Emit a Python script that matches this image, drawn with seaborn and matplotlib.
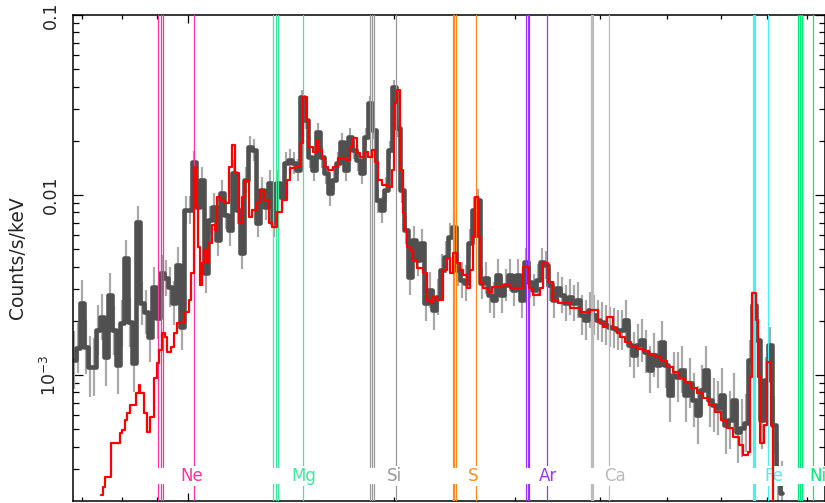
import numpy as np
import pandas as pd
import matplotlib
matplotlib.use("Agg")
import matplotlib.pyplot as plt
import seaborn as sns
from matplotlib.ticker import LogLocator, FixedLocator, FixedFormatter, NullFormatter

# ---------------- data ----------------
# observed spectrum: bin centres (keV), rate (counts/s/keV), 1-sigma error (dex)
data_kev = [0.682, 0.691, 0.700, 0.710, 0.719, 0.729, 0.739, 0.749, 0.759, 0.769,
            0.780, 0.790, 0.801, 0.812, 0.823, 0.834, 0.845, 0.857, 0.868, 0.880,
            0.892, 0.904, 0.916, 0.929, 0.941, 0.954, 0.967, 0.980, 0.993, 1.007,
            1.020, 1.034, 1.048, 1.062, 1.077, 1.091, 1.106, 1.121, 1.136, 1.152,
            1.167, 1.183, 1.199, 1.215, 1.232, 1.248, 1.265, 1.282, 1.300, 1.317,
            1.335, 1.353, 1.372, 1.390, 1.409, 1.428, 1.448, 1.467, 1.487, 1.507,
            1.528, 1.548, 1.569, 1.591, 1.612, 1.634, 1.656, 1.679, 1.701, 1.724,
            1.748, 1.771, 1.795, 1.820, 1.844, 1.869, 1.895, 1.920, 1.946, 1.973,
            2.000, 2.027, 2.054, 2.082, 2.110, 2.139, 2.168, 2.197, 2.227, 2.257,
            2.288, 2.319, 2.350, 2.382, 2.414, 2.447, 2.480, 2.512, 2.546, 2.580,
            2.615, 2.651, 2.687, 2.723, 2.760, 2.797, 2.835, 2.874, 2.912, 2.952,
            2.992, 3.032, 3.073, 3.115, 3.157, 3.200, 3.243, 3.287, 3.332, 3.377,
            3.422, 3.469, 3.516, 3.563, 3.612, 3.660, 3.710, 3.760, 3.811, 3.863,
            3.915, 3.968, 4.022, 4.076, 4.131, 4.187, 4.244, 4.302, 4.360, 4.419,
            4.479, 4.539, 4.601, 4.663, 4.726, 4.790, 4.855, 4.921, 4.987, 5.055,
            5.123, 5.193, 5.263, 5.334, 5.406, 5.480, 5.554, 5.629, 5.705, 5.782,
            5.861, 5.940, 6.020, 6.102, 6.184, 6.268, 6.353, 6.439, 6.526, 6.614,
            6.704, 6.794, 6.886, 6.979, 7.074, 7.170, 7.267, 7.365]

data_rate = [0.00121, 0.00141, 0.00251, 0.00143, 0.00111, 0.00111, 0.00178, 0.00210, 0.00126, 0.00279,
             0.00178, 0.00114, 0.00194, 0.00447, 0.00197, 0.00116, 0.00708, 0.00251, 0.00224, 0.00163,
             0.00308, 0.00208, 0.00369, 0.00346, 0.00308, 0.00251, 0.00408, 0.00185, 0.00825, 0.00825,
             0.01525, 0.00858, 0.01212, 0.00369, 0.00726, 0.00858, 0.00562, 0.01026, 0.00774, 0.00639,
             0.01325, 0.00825, 0.00476, 0.01212, 0.01848, 0.01778, 0.00699, 0.01066, 0.00858, 0.01166,
             0.00699, 0.01166, 0.00975, 0.01506, 0.01565, 0.01506, 0.01377, 0.03503, 0.02610, 0.01626,
             0.01377, 0.02239, 0.01626, 0.01325, 0.01026, 0.01212, 0.01506, 0.01970, 0.01377, 0.02100,
             0.01778, 0.01565, 0.01325, 0.02100, 0.03244, 0.02297, 0.00938, 0.00825, 0.01066, 0.01778,
             0.03981, 0.02356, 0.01066, 0.00639, 0.00350, 0.00562, 0.00435, 0.00541, 0.00251, 0.00297,
             0.00230, 0.00272, 0.00383, 0.00453, 0.00584, 0.00664, 0.00383, 0.00337, 0.00324, 0.00541,
             0.00825, 0.00938, 0.00324, 0.00346, 0.00279, 0.00261, 0.00359, 0.00279, 0.00316, 0.00359,
             0.00297, 0.00359, 0.00261, 0.00424, 0.00328, 0.00297, 0.00337, 0.00424, 0.00408, 0.00316,
             0.00261, 0.00304, 0.00279, 0.00251, 0.00272, 0.00251, 0.00261, 0.00216, 0.00202, 0.00230,
             0.00216, 0.00202, 0.00197, 0.00189, 0.00185, 0.00182, 0.00178, 0.00178, 0.00202, 0.00146,
             0.00129, 0.00146, 0.00156, 0.00135, 0.00107, 0.00129, 0.00114, 0.00152, 0.00114, 0.000774,
             0.00100, 0.000978, 0.00107, 0.000774, 0.000903, 0.000726, 0.000599, 0.000825, 0.00107, 0.000726,
             0.000681, 0.000655, 0.000774, 0.000527, 0.000562, 0.000726, 0.000482, 0.000507, 0.000541, 0.00121,
             0.00245, 0.00156, 0.000562, 0.000938, 0.00146, 0.000527, 0.000279, 0.000221]

data_err_dex = [0.16, 0.14, 0.13, 0.15, 0.17, 0.16, 0.14, 0.13, 0.16, 0.12,
                0.14, 0.16, 0.13, 0.10, 0.14, 0.16, 0.09, 0.12, 0.12, 0.14,
                0.11, 0.12, 0.10, 0.10, 0.11, 0.12, 0.10, 0.13, 0.08, 0.08,
                0.06, 0.08, 0.07, 0.11, 0.08, 0.08, 0.09, 0.07, 0.08, 0.09,
                0.07, 0.08, 0.09, 0.07, 0.06, 0.06, 0.08, 0.07, 0.07, 0.07,
                0.08, 0.07, 0.07, 0.06, 0.06, 0.06, 0.06, 0.04, 0.05, 0.06,
                0.06, 0.05, 0.06, 0.06, 0.07, 0.06, 0.06, 0.05, 0.06, 0.05,
                0.05, 0.06, 0.06, 0.05, 0.04, 0.05, 0.07, 0.07, 0.07, 0.05,
                0.04, 0.05, 0.07, 0.08, 0.10, 0.08, 0.09, 0.08, 0.10, 0.10,
                0.11, 0.10, 0.09, 0.09, 0.08, 0.08, 0.09, 0.10, 0.10, 0.08,
                0.07, 0.06, 0.09, 0.09, 0.10, 0.10, 0.09, 0.10, 0.09, 0.09,
                0.09, 0.09, 0.10, 0.08, 0.09, 0.09, 0.09, 0.08, 0.08, 0.09,
                0.10, 0.09, 0.10, 0.10, 0.10, 0.10, 0.10, 0.11, 0.11, 0.10,
                0.11, 0.11, 0.11, 0.11, 0.11, 0.11, 0.11, 0.11, 0.11, 0.12,
                0.13, 0.12, 0.12, 0.12, 0.13, 0.12, 0.13, 0.12, 0.13, 0.15,
                0.13, 0.14, 0.13, 0.15, 0.14, 0.15, 0.16, 0.14, 0.13, 0.15,
                0.15, 0.15, 0.15, 0.16, 0.16, 0.15, 0.17, 0.16, 0.16, 0.11,
                0.08, 0.10, 0.16, 0.13, 0.10, 0.16, 0.18, 0.18]

# folded model: step edges (keV) and rate (counts/s/keV)
model_kev = [0.7464, 0.7515, 0.7566, 0.7716, 0.7959, 0.8012, 0.8093, 0.8148, 0.8230, 0.8397,
             0.8482, 0.8510, 0.8626, 0.8713, 0.8801, 0.8919, 0.9010, 0.9071, 0.9164, 0.9256,
             0.9318, 0.9445, 0.9540, 0.9637, 0.9800, 0.9900, 1.0034, 1.0101, 1.0204, 1.0273,
             1.0342, 1.0412, 1.0482, 1.0553, 1.0660, 1.0731, 1.0840, 1.0950, 1.1023, 1.1135,
             1.1324, 1.1477, 1.1593, 1.1711, 1.1870, 1.1990, 1.2112, 1.2276, 1.2400, 1.2611,
             1.2738, 1.2911, 1.3130, 1.3263, 1.3488, 1.3717, 1.3950, 1.4091, 1.4330, 1.4573,
             1.4721, 1.4920, 1.5021, 1.5224, 1.5431, 1.5483, 1.5692, 1.5849, 1.6010, 1.6281,
             1.6557, 1.6781, 1.7066, 1.7239, 1.7414, 1.7649, 1.7827, 1.8130, 1.8314, 1.8562,
             1.8750, 1.8940, 1.9196, 1.9522, 1.9866, 2.0000, 2.0203, 2.0408, 2.0614, 2.0753,
             2.0893, 2.1105, 2.1319, 2.1608, 2.2048, 2.2346, 2.2573, 2.2802, 2.3110, 2.3581,
             2.3901, 2.4143, 2.4388, 2.4718, 2.4969, 2.5222, 2.5564, 2.5803, 2.6065, 2.6240,
             2.6506, 2.6685, 2.6956, 2.7413, 2.7784, 2.8829, 2.9515, 3.0836, 3.1464, 3.1890,
             3.2649, 3.2980, 3.3539, 3.4108, 3.4687, 3.6115, 3.7351, 3.8628, 3.9682, 4.0364,
             4.0910, 4.1744, 4.2310, 4.2739, 4.3464, 4.4350, 4.5254, 4.6176, 4.7117, 4.8077,
             4.9057, 5.0057, 5.1077, 5.2118, 5.3180, 5.4264, 5.5370, 5.6498, 5.7649, 5.8824,
             6.0023, 6.1246, 6.2494, 6.3768, 6.4632, 6.5728, 6.6171, 6.6617, 6.7520, 6.7975,
             6.8434, 6.9361, 7.0064, 7.0986, 7.1462, 7.2188]

model_rate = [0.000215, 0.000239, 0.000272, 0.000419, 0.000476, 0.000495, 0.000562, 0.000615, 0.000681, 0.000794,
              0.000880, 0.000794, 0.000615, 0.000482, 0.000584, 0.000966, 0.00116, 0.00138, 0.00171, 0.00163,
              0.00135, 0.00143, 0.00171, 0.00194, 0.00197, 0.00224, 0.00261, 0.00369, 0.01431, 0.00858,
              0.00514, 0.00316, 0.00419, 0.00495, 0.00419, 0.00541, 0.00681, 0.00639, 0.00975, 0.00938,
              0.00903, 0.01431, 0.01896, 0.01325, 0.00699, 0.00975, 0.01212, 0.00754, 0.00825, 0.00914,
              0.01066, 0.00938, 0.00699, 0.00664, 0.00804, 0.00938, 0.01212, 0.01413, 0.01431, 0.01945,
              0.03503, 0.02610, 0.01848, 0.01733, 0.02021, 0.01778, 0.01605, 0.01431, 0.01377, 0.01431,
              0.01605, 0.01605, 0.01565, 0.01848, 0.02074, 0.01711, 0.01626, 0.01733, 0.01626, 0.01778,
              0.01525, 0.01212, 0.01137, 0.01108, 0.01377, 0.03244, 0.03831, 0.01377, 0.00794, 0.00639,
              0.00514, 0.00495, 0.00435, 0.00393, 0.00369, 0.00261, 0.00251, 0.00272, 0.00261, 0.00383,
              0.00447, 0.00369, 0.00476, 0.00419, 0.00383, 0.00359, 0.00304, 0.00383, 0.00584, 0.00975,
              0.00584, 0.00324, 0.00304, 0.00289, 0.00308, 0.00316, 0.00304, 0.00398, 0.00304, 0.00279,
              0.00304, 0.00419, 0.00328, 0.00261, 0.00251, 0.00236, 0.00224, 0.00230, 0.00197, 0.00185,
              0.00210, 0.00182, 0.00171, 0.00163, 0.00152, 0.00144, 0.00139, 0.00136, 0.00131, 0.00126,
              0.00119, 0.00111, 0.00104, 0.000966, 0.000914, 0.000847, 0.000794, 0.000745, 0.000681, 0.000623,
              0.000562, 0.000507, 0.000453, 0.000408, 0.000359, 0.000373, 0.000978, 0.00286, 0.00202, 0.000978,
              0.000419, 0.000527, 0.00118, 0.000527, 0.000150, 0.000150]

# emission-line markers (keV): He-like triplet, Ly-alpha, label position
line_names = ["Ne", "Mg", "Si", "S", "Ar", "Ca", "Fe", "Ni"]
line_triplets = [[0.905, 0.913, 0.920], [1.332, 1.343, 1.352], [1.844, 1.856, 1.869],
                 [2.434, 2.448, 2.462], [3.115, 3.133, 3.150], [3.871, 3.888, 3.905],
                 [6.674, 6.699, 6.726], [7.780, 7.825, 7.870]]
line_lya = [1.020, 1.470, 2.012, 2.630, 3.346, 4.121, 7.033, 8.167]
label_kev = [1.0135, 1.477, 2.000, 2.607, 3.354, 4.201, 7.170, 8.314]
line_colors = ["#ff3399", "#3deb9a", "#999999", "#ff8c1a", "#9933ff", "#bbbbbb", "#4deeee", "#00ee77"]

# ---------------- plotting ----------------
sns.set_theme(style="white")
plt.rcParams["font.family"] = ["DejaVu Sans"]

W, H = 825, 503
fig = plt.figure(figsize=(W / 100, H / 100), dpi=100)
ax = fig.add_axes([72.7 / W, 2.5 / H, (W - 72.7) / W, (500.5 - 15) / H])

df_data = pd.DataFrame({"E": data_kev, "rate": data_rate, "err": data_err_dex})
df_model = pd.DataFrame({"E": model_kev, "rate": model_rate})

lo = df_data["rate"] / 10 ** df_data["err"]
hi = df_data["rate"] * 10 ** df_data["err"]
ax.vlines(df_data["E"], lo, hi, color="#a9a9a9", lw=1.6, zorder=1)

sns.lineplot(data=df_data, x="E", y="rate", drawstyle="steps-mid", color="#505050",
             lw=3.3, estimator=None, sort=False, ax=ax, zorder=2)

gap_lo, gap_hi = 0.033, 0.068
for name, trip, lya, lab, col in zip(line_names, line_triplets, line_lya, label_kev, line_colors):
    for e in trip + [lya]:
        ax.axvline(e, ymin=0, ymax=gap_lo, color=col, lw=0.9, zorder=3)
        ax.axvline(e, ymin=gap_hi, ymax=1, color=col, lw=0.9, zorder=3)
    ax.text(lab, 2.75e-4, name, color=col, ha="center", va="center", fontsize=12,
            zorder=4, bbox=dict(facecolor="white", edgecolor="none", pad=0.5))

sns.lineplot(data=df_model, x="E", y="rate", drawstyle="steps-post", color="#ff0000",
             lw=1.6, estimator=None, sort=False, ax=ax, zorder=5)

ax.set_xscale("log")
ax.set_yscale("log")
ax.set_xlim(0.6787, 8.511)
ax.set_ylim(2.008e-4, 0.1)

ax.xaxis.set_major_locator(LogLocator(base=10))
ax.xaxis.set_minor_locator(LogLocator(base=10, subs=np.arange(2, 10)))
ax.xaxis.set_minor_formatter(NullFormatter())
ax.yaxis.set_major_locator(FixedLocator([1e-3, 1e-2, 1e-1]))
ax.yaxis.set_major_formatter(FixedFormatter([r"$10^{-3}$", "0.01", "0.1"]))
ax.yaxis.set_minor_locator(LogLocator(base=10, subs=np.arange(2, 10)))
ax.yaxis.set_minor_formatter(NullFormatter())

ax.tick_params(which="both", direction="in", top=True, right=True, bottom=True, left=True,
               labelbottom=False, color="black", width=0.9)
ax.tick_params(axis="y", which="major", length=7.2, labelsize=12.5, pad=9)
ax.tick_params(axis="y", which="minor", length=4.2)
ax.tick_params(axis="x", which="major", length=5.8)
ax.tick_params(axis="x", which="minor", length=3.0)
for lbl in ax.get_yticklabels():
    lbl.set_rotation(90)
    lbl.set_va("center")

for sp in ax.spines.values():
    sp.set_color("black")
    sp.set_linewidth(1.1)

ax.set_xlabel("")
ax.set_ylabel("Counts/s/keV", fontsize=13.5)
ax.yaxis.set_label_coords(-0.061, 0.5)
if ax.get_legend() is not None:
    ax.get_legend().remove()

fig.savefig("out.png", dpi=100)
